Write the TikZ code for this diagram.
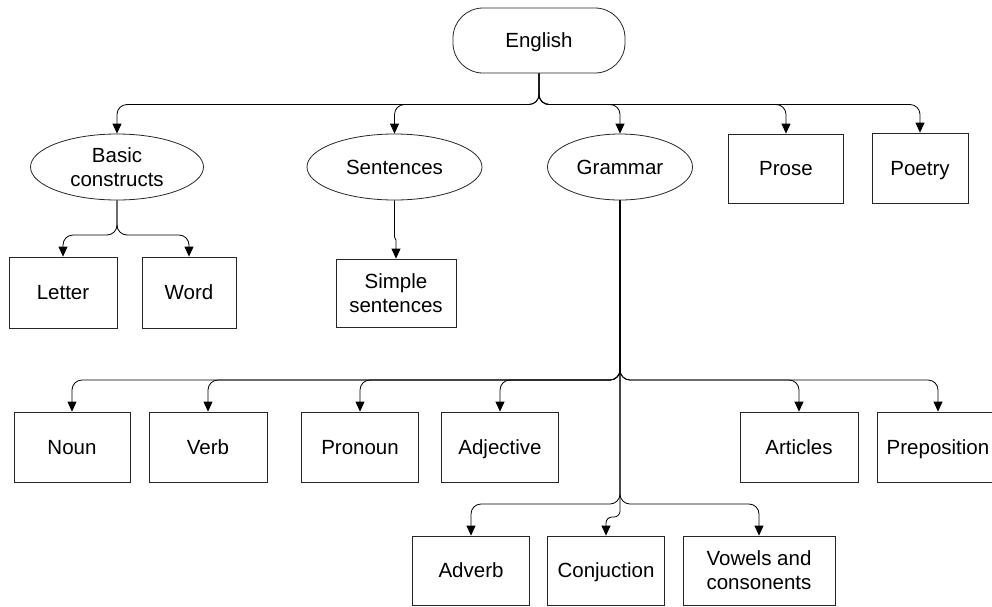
\documentclass[tikz,border=0pt]{standalone}
\usepackage{fontspec}
\setmainfont{Liberation Sans}
\usetikzlibrary{shapes.geometric,arrows.meta}
\begin{document}
\begin{tikzpicture}[x=1pt,y=-1pt,
  every node/.style={font=\fontsize{20.5}{24}\selectfont, align=center, inner sep=0pt},
  oneline/.style={text height=14.7pt, text depth=0pt},
  shape base/.style={draw=black!85, line width=0.8pt},
  topbox/.style={shape base, oneline, rectangle, rounded corners=30pt, minimum width=172pt, minimum height=65pt},
  ovalbox/.style={shape base, ellipse, minimum height=66pt, inner ysep=-1pt},
  leaf/.style={shape base, rectangle, minimum height=70pt},
  link/.style={-{Triangle[length=10pt,width=9pt]}, line width=0.8pt, rounded corners=10pt}
]
\clip (0,0) rectangle (992,606);

% root
\node[topbox] (english) at (539,40.5) {English};

% first level
\node[ovalbox, minimum width=173pt] (basic) at (117,167) {Basic\\constructs};
\node[ovalbox, oneline, minimum width=175pt] (sentences) at (394.5,167) {Sentences};
\node[ovalbox, oneline, minimum width=145pt] (grammar) at (620,167) {Grammar};
\node[leaf, oneline, minimum width=115pt, minimum height=69pt] (prose) at (786,168.5) {Prose};
\node[leaf, oneline, minimum width=96pt] (poetry) at (920,168) {Poetry};

% under basic constructs and sentences
\node[leaf, oneline, minimum width=108pt, minimum height=71pt] (letter) at (63,292.5) {Letter};
\node[leaf, oneline, minimum width=94pt, minimum height=71pt] (word) at (189,292.5) {Word};
\node[leaf, minimum width=120pt, minimum height=68pt] (simple) at (396,293) {Simple\\sentences};

% grammar, upper row
\node[leaf, oneline, minimum width=116pt] (noun) at (72,447) {Noun};
\node[leaf, oneline, minimum width=118pt] (verb) at (208,447) {Verb};
\node[leaf, oneline, minimum width=117pt] (pronoun) at (360,447) {Pronoun};
\node[leaf, oneline, minimum width=117pt] (adjective) at (500,447) {Adjective};
\node[leaf, oneline, minimum width=118pt] (articles) at (799,447) {Articles};
\node[leaf, oneline, minimum width=122pt] (preposition) at (938,447) {Preposition};

% grammar, lower row
\node[leaf, oneline, minimum width=117pt, minimum height=69pt] (adverb) at (471,570.5) {Adverb};
\node[leaf, oneline, minimum width=117pt, minimum height=69pt] (conj) at (606,570.5) {Conjuction};
\node[leaf, minimum width=152pt, minimum height=69pt] (vowels) at (759,570.5) {Vowels and\\consonents};

% branch points
\coordinate (eb) at (539,104.5);
\coordinate (bb) at (117,235);
\coordinate (sb1) at (394.5,237);
\coordinate (sb2) at (396,240);
\coordinate (gb) at (620,380);
\coordinate (gl) at (620,504);
\coordinate (gc) at (620,517);

% English fan-out
\foreach \t in {basic,sentences,grammar,prose,poetry}
  \draw[link] (english.south) -- (eb) -| (\t.north);

% basic constructs
\foreach \t in {letter,word}
  \draw[link] (basic.south) -- (bb) -| (\t.north);

% sentences
\draw[link, sharp corners] (sentences.south) -- (sb1) -- (sb2) -- (simple.north);

% grammar
\foreach \t in {noun,verb,pronoun,adjective,articles,preposition}
  \draw[link] (grammar.south) -- (gb) -| (\t.north);
\foreach \t in {adverb,vowels}
  \draw[link] (grammar.south) -- (gl) -| (\t.north);
\draw[link, rounded corners=6pt] (grammar.south) -- (gc) -| (conj.north);
\end{tikzpicture}
\end{document}
